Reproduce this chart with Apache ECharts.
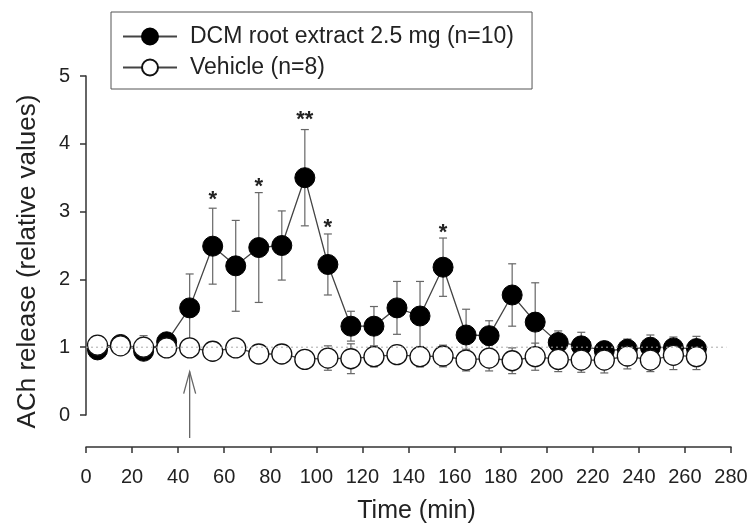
<!DOCTYPE html>
<html>
<head>
<meta charset="utf-8">
<title>ACh release</title>
<script src="https://cdn.jsdelivr.net/npm/echarts@6/dist/echarts.min.js"></script>
<style>
  html, body { margin: 0; padding: 0; background: #fff; }
  #chart { width: 752px; height: 529px; }
</style>
</head>
<body>
<div id="chart"></div>
<script>
// sampling times (min)
var times = [5, 15, 25, 35, 45, 55, 65, 75, 85, 95, 105, 115, 125, 135,
  145, 155, 165, 175, 185, 195, 205, 215, 225, 235, 245, 255, 265];

// DCM root extract 2.5 mg (n=10): mean and SEM
var dcmMean = [0.96, 1.04, 0.94, 1.08, 1.58, 2.49, 2.20, 2.47, 2.50, 3.50, 2.22, 1.31, 1.31, 1.58,
  1.46, 2.18, 1.18, 1.17, 1.77, 1.37, 1.07, 1.02, 0.95, 0.97, 1.00, 0.99, 0.98];
var dcmSem = [0.05, 0.05, 0.06, 0.06, 0.50, 0.56, 0.67, 0.81, 0.51, 0.71, 0.45, 0.22, 0.29, 0.39,
  0.51, 0.43, 0.38, 0.22, 0.46, 0.58, 0.17, 0.20, 0.12, 0.15, 0.18, 0.16, 0.18];

// Vehicle (n=8): mean and SEM
var vehMean = [1.03, 1.02, 1.00, 0.99, 0.99, 0.94, 0.99, 0.90, 0.90, 0.82, 0.84, 0.83, 0.86, 0.89,
  0.86, 0.87, 0.81, 0.84, 0.80, 0.86, 0.82, 0.81, 0.81, 0.87, 0.81, 0.88, 0.86];
var vehSem = [0.05, 0.05, 0.17, 0.08, 0.08, 0.07, 0.06, 0.10, 0.08, 0.13, 0.18, 0.22, 0.15, 0.12,
  0.15, 0.16, 0.16, 0.19, 0.19, 0.20, 0.18, 0.18, 0.19, 0.19, 0.17, 0.21, 0.19];

// significance marks
var starTimes = [55, 75, 95, 105, 155];
var starValues = [3.24, 3.44, 4.42, 2.83, 2.76];
var starLabels = ['*', '*', '**', '*', '*'];

// treatment arrow (time, from, to)
var arrowTime = 45;
var arrowFrom = -0.34;
var arrowTo = 0.64;

// baseline reference
var baseline = 1;
var baselineEnd = 278;

var FONT = 'Liberation Sans, Arial, sans-serif';
var AXIS = '#333';

function pairs(xs, ys) {
  return xs.map(function (x, i) { return [x, ys[i]]; });
}

function errData(xs, m, s) {
  return xs.map(function (x, i) { return [x, m[i] - s[i], m[i] + s[i]]; });
}

function renderErr(params, api) {
  var x = api.value(0);
  var lo = api.coord([x, api.value(1)]);
  var hi = api.coord([x, api.value(2)]);
  var w = 4;
  var st = { stroke: '#666', lineWidth: 1.2 };
  return {
    type: 'group',
    children: [
      { type: 'line', shape: { x1: lo[0], y1: lo[1], x2: hi[0], y2: hi[1] }, style: st },
      { type: 'line', shape: { x1: hi[0] - w, y1: hi[1], x2: hi[0] + w, y2: hi[1] }, style: st },
      { type: 'line', shape: { x1: lo[0] - w, y1: lo[1], x2: lo[0] + w, y2: lo[1] }, style: st }
    ]
  };
}

var chart = echarts.init(document.getElementById('chart'));
chart.setOption({
  animation: false,
  backgroundColor: '#fff',
  textStyle: { fontFamily: FONT },
  grid: { left: 86, right: 21, top: 76, bottom: 114, outerBoundsMode: 'none' },
  legend: {
    orient: 'vertical',
    left: 111,
    top: 12,
    padding: [13, 18, 10, 11],
    itemGap: 8,
    itemWidth: 54,
    itemHeight: 20,
    borderColor: '#555',
    borderWidth: 1,
    selectedMode: false,
    textStyle: { fontSize: 23, color: '#222', fontFamily: FONT, padding: [0, 0, 0, 8] },
    data: ['DCM root extract 2.5 mg (n=10)', 'Vehicle (n=8)']
  },
  xAxis: {
    type: 'value',
    min: 0,
    max: 280,
    interval: 20,
    offset: 32,
    name: 'Time (min)',
    nameLocation: 'middle',
    nameGap: 52,
    nameTextStyle: { fontSize: 25, color: '#222', fontFamily: FONT, padding: [0, 0, 0, 16] },
    axisLine: { onZero: false, lineStyle: { color: AXIS, width: 1.5 } },
    axisTick: { length: 6, lineStyle: { color: AXIS, width: 1.5 } },
    axisLabel: { fontSize: 20, color: '#222', margin: 20, fontFamily: FONT },
    splitLine: { show: false }
  },
  yAxis: {
    type: 'value',
    min: 0,
    max: 5,
    interval: 1,
    name: 'ACh release (relative values)',
    nameLocation: 'middle',
    nameGap: 45,
    nameTextStyle: { fontSize: 26, color: '#222', fontFamily: FONT, padding: [0, 32, 0, 0] },
    axisLine: { show: true, lineStyle: { color: AXIS, width: 1.5 } },
    axisTick: { show: true, length: 6, lineStyle: { color: AXIS, width: 1.5 } },
    axisLabel: { fontSize: 20, color: '#222', margin: 16, fontFamily: FONT },
    splitLine: { show: false }
  },
  series: [
    {
      name: 'dcmErr',
      type: 'custom',
      renderItem: renderErr,
      data: errData(times, dcmMean, dcmSem),
      z: 1,
      silent: true
    },
    {
      name: 'vehErr',
      type: 'custom',
      renderItem: renderErr,
      data: errData(times, vehMean, vehSem),
      z: 1,
      silent: true
    },
    {
      name: 'DCM root extract 2.5 mg (n=10)',
      type: 'line',
      data: pairs(times, dcmMean),
      symbol: 'circle',
      symbolSize: 20,
      itemStyle: { color: '#000', borderColor: '#000', borderWidth: 1 },
      lineStyle: { color: '#444', width: 1.3 },
      z: 3
    },
    {
      name: 'Vehicle (n=8)',
      type: 'line',
      data: pairs(times, vehMean),
      symbol: 'circle',
      symbolSize: 20,
      itemStyle: { color: '#fff', borderColor: '#111', borderWidth: 1.3 },
      lineStyle: { color: '#444', width: 1.3 },
      z: 4
    },
    {
      name: 'baseline',
      type: 'line',
      data: [[0, baseline], [baselineEnd, baseline]],
      symbol: 'none',
      lineStyle: { color: '#aaa', width: 1, type: [2, 3] },
      z: 6,
      silent: true
    },
    {
      name: 'stars',
      type: 'custom',
      data: starTimes.map(function (t, i) { return [t, starValues[i], i]; }),
      renderItem: function (params, api) {
        var p = api.coord([api.value(0), api.value(1)]);
        return {
          type: 'text',
          x: p[0],
          y: p[1] + 5,
          style: {
            text: starLabels[api.value(2)],
            fontSize: 22,
            fontWeight: 'bold',
            fontFamily: FONT,
            fill: '#222',
            align: 'center',
            verticalAlign: 'middle'
          }
        };
      },
      z: 5,
      silent: true
    },
    {
      name: 'arrow',
      type: 'custom',
      clip: false,
      data: [[arrowTime, arrowFrom, arrowTo]],
      renderItem: function (params, api) {
        var a = api.coord([api.value(0), api.value(1)]);
        var b = api.coord([api.value(0), api.value(2)]);
        var st = { stroke: '#666', lineWidth: 1.3, fill: null };
        return {
          type: 'group',
          children: [
            { type: 'line', shape: { x1: a[0], y1: a[1], x2: b[0], y2: b[1] }, style: st },
            { type: 'polyline', shape: { points: [[b[0] - 6, b[1] + 22], [b[0], b[1]], [b[0] + 6, b[1] + 22]] }, style: st }
          ]
        };
      },
      z: 5,
      silent: true
    }
  ]
});
</script>
</body>
</html>
